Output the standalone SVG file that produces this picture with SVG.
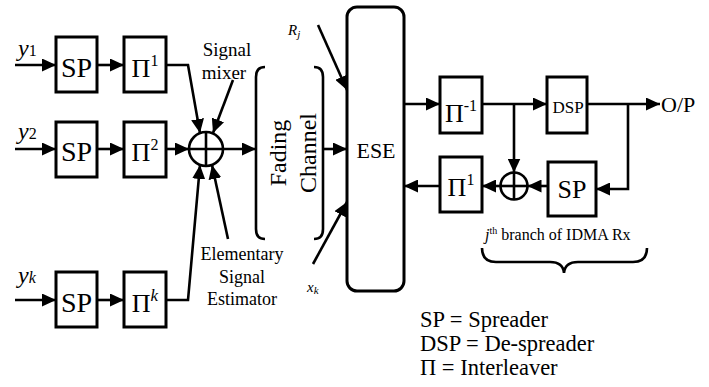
<svg xmlns="http://www.w3.org/2000/svg" width="709" height="387" viewBox="0 0 709 387" font-family="'Liberation Serif', 'Times New Roman', 'DejaVu Serif', serif">
<style>
.box{fill:#fff;stroke:#000;stroke-width:3}
.ln{fill:none;stroke:#000;stroke-width:2.6}
.ar{marker-end:url(#ah)}
.t{font-family:'Liberation Serif','Times New Roman','DejaVu Serif',serif;fill:#000}
.big{font-size:28px;text-anchor:middle}
.pi{font-size:26px;text-anchor:middle}
.it{font-style:italic}
.lg{font-size:22.5px}
</style>
<defs>
<marker id="ah" markerUnits="userSpaceOnUse" markerWidth="15" markerHeight="13" refX="14" refY="6.5" orient="auto">
<path d="M0,0 L14,6.5 L0,13 z" fill="#000"/>
</marker>
</defs>
<rect width="709" height="387" fill="#fff"/>

<g id="connectors">
<line class="ln ar" x1="15" y1="65" x2="56" y2="65"/>
<line class="ln ar" x1="97" y1="65" x2="124" y2="65"/>
<polyline class="ln ar" points="166,65 188,65 200,133"/>
<line class="ln ar" x1="233" y1="80" x2="213" y2="133"/>
<line class="ln ar" x1="15" y1="149" x2="56" y2="149"/>
<line class="ln ar" x1="97" y1="149" x2="124" y2="149"/>
<line class="ln ar" x1="166" y1="149" x2="189" y2="149"/>
<line class="ln ar" x1="223" y1="149" x2="256" y2="149"/>
<line class="ln ar" x1="15" y1="300" x2="56" y2="300"/>
<line class="ln ar" x1="97" y1="300" x2="124" y2="300"/>
<polyline class="ln ar" points="166,300 188,300 200,165"/>
<line class="ln ar" x1="228" y1="239" x2="212" y2="165"/>
<line class="ln ar" x1="324" y1="149" x2="347" y2="149"/>
<line class="ln ar" x1="318" y1="25" x2="347" y2="90"/>
<line class="ln ar" x1="313" y1="264" x2="347" y2="202"/>
<line class="ln ar" x1="404" y1="104" x2="440" y2="104"/>
<line class="ln ar" x1="482" y1="104" x2="547" y2="104"/>
<line class="ln ar" x1="514" y1="104" x2="514" y2="172.5"/>
<line class="ln ar" x1="587" y1="104" x2="660" y2="104"/>
<polyline class="ln ar" points="628,104 628,189 596,189"/>
<line class="ln ar" x1="548" y1="186" x2="527.5" y2="186"/>
<line class="ln ar" x1="500.5" y1="186" x2="482" y2="186"/>
<line class="ln ar" x1="440" y1="186" x2="404" y2="186"/>
</g>

<g id="y1-label"><text class="t it" x="18" y="56" font-size="24">y<tspan font-style="normal" font-size="16">1</tspan></text></g>
<g id="y2-label"><text class="t it" x="18" y="139" font-size="24">y<tspan font-style="normal" font-size="16">2</tspan></text></g>
<g id="yk-label"><text class="t it" x="18" y="283" font-size="24">y<tspan font-size="16">k</tspan></text></g>

<g id="sp1"><rect class="box" x="56" y="37" width="41" height="55"/><text class="t big" x="76.5" y="77">SP</text></g>
<g id="pi1"><rect class="box" x="124" y="37" width="42" height="55"/><text class="t pi" x="145" y="77">Π<tspan font-size="16" dy="-11">1</tspan></text></g>
<g id="sp2"><rect class="box" x="56" y="122" width="41" height="55"/><text class="t big" x="76.5" y="161">SP</text></g>
<g id="pi2"><rect class="box" x="124" y="122" width="42" height="55"/><text class="t pi" x="145" y="161">Π<tspan font-size="16" dy="-11">2</tspan></text></g>
<g id="spk"><rect class="box" x="56" y="272" width="41" height="55"/><text class="t big" x="76.5" y="312">SP</text></g>
<g id="pik"><rect class="box" x="124" y="272" width="42" height="55"/><text class="t pi" x="145" y="312">Π<tspan font-size="17" dy="-11" font-style="italic">k</tspan></text></g>

<g id="mixer">
<circle cx="206" cy="149" r="17" fill="#fff" stroke="#000" stroke-width="2.6"/>
<line class="ln" x1="189" y1="149" x2="223" y2="149"/>
<line class="ln" x1="206" y1="132" x2="206" y2="166"/>
</g>
<g id="mixer-label">
<text class="t" x="227" y="56" font-size="19" text-anchor="middle">Signal</text>
<text class="t" x="224" y="79" font-size="19" text-anchor="middle">mixer</text>
</g>
<g id="ese-label">
<text class="t" x="242" y="260" font-size="18" text-anchor="middle">Elementary</text>
<text class="t" x="242" y="283" font-size="18" text-anchor="middle">Signal</text>
<text class="t" x="242" y="305" font-size="18" text-anchor="middle">Estimator</text>
</g>

<g id="fading-channel">
<path class="ln" d="M265,67 Q256,67 256,77 L256,229 Q256,239 265,239"/>
<path class="ln" d="M314,67 Q323,67 323,77 L323,229 Q323,239 314,239"/>
<text class="t" transform="translate(286,153) rotate(-90)" font-size="24" text-anchor="middle">Fading</text>
<text class="t" transform="translate(316,153) rotate(-90)" font-size="24" text-anchor="middle">Channel</text>
</g>

<g id="rj-label"><text class="t it" x="288" y="35" font-size="15">R<tspan font-size="11" dy="3">j</tspan></text></g>
<g id="xk-label"><text class="t it" x="307" y="292" font-size="15">x<tspan font-size="11" dy="2">k</tspan></text></g>

<g id="ese"><rect x="347" y="7" width="57" height="284" rx="10" fill="#fff" stroke="#000" stroke-width="3"/><text class="t" x="376" y="158" font-size="22" text-anchor="middle">ESE</text></g>

<g id="deinterleaver"><rect class="box" x="440" y="77" width="42" height="56"/><text class="t pi" x="461" y="122">Π<tspan font-size="16" dy="-11">-1</tspan></text></g>
<g id="dsp"><rect class="box" x="547" y="77" width="40" height="56"/><text class="t" x="568" y="113" font-size="17" text-anchor="middle">DSP</text></g>
<g id="op-label"><text class="t" x="661" y="112" font-size="22">O/P</text></g>
<g id="sp-rx"><rect class="box" x="548" y="162" width="48" height="54"/><text class="t" x="572" y="198" font-size="26" text-anchor="middle">SP</text></g>
<g id="adder-rx">
<circle cx="514" cy="186" r="13.5" fill="#fff" stroke="#000" stroke-width="2.6"/>
<line class="ln" x1="500.5" y1="186" x2="527.5" y2="186"/>
<line class="ln" x1="514" y1="172.5" x2="514" y2="199.5"/>
</g>
<g id="interleaver-rx"><rect class="box" x="440" y="157" width="42" height="55"/><text class="t pi" x="461" y="196">Π<tspan font-size="16" dy="-11">1</tspan></text></g>

<g id="branch-label">
<text class="t" x="485" y="240" font-size="16"><tspan font-style="italic">j</tspan><tspan font-size="10" dy="-6">th</tspan><tspan dy="6"> branch of IDMA Rx</tspan></text>
<path class="ln" d="M482,248 Q482,262 496,262 L550,262 Q563,262 564,273 Q565,262 578,262 L633,262 Q647,262 647,248"/>
</g>

<g id="legend">
<text class="t lg" x="420" y="327">SP = Spreader</text>
<text class="t lg" x="420" y="350.5">DSP = De-spreader</text>
<text class="t lg" x="420" y="374.5">Π = Interleaver</text>
</g>
</svg>
